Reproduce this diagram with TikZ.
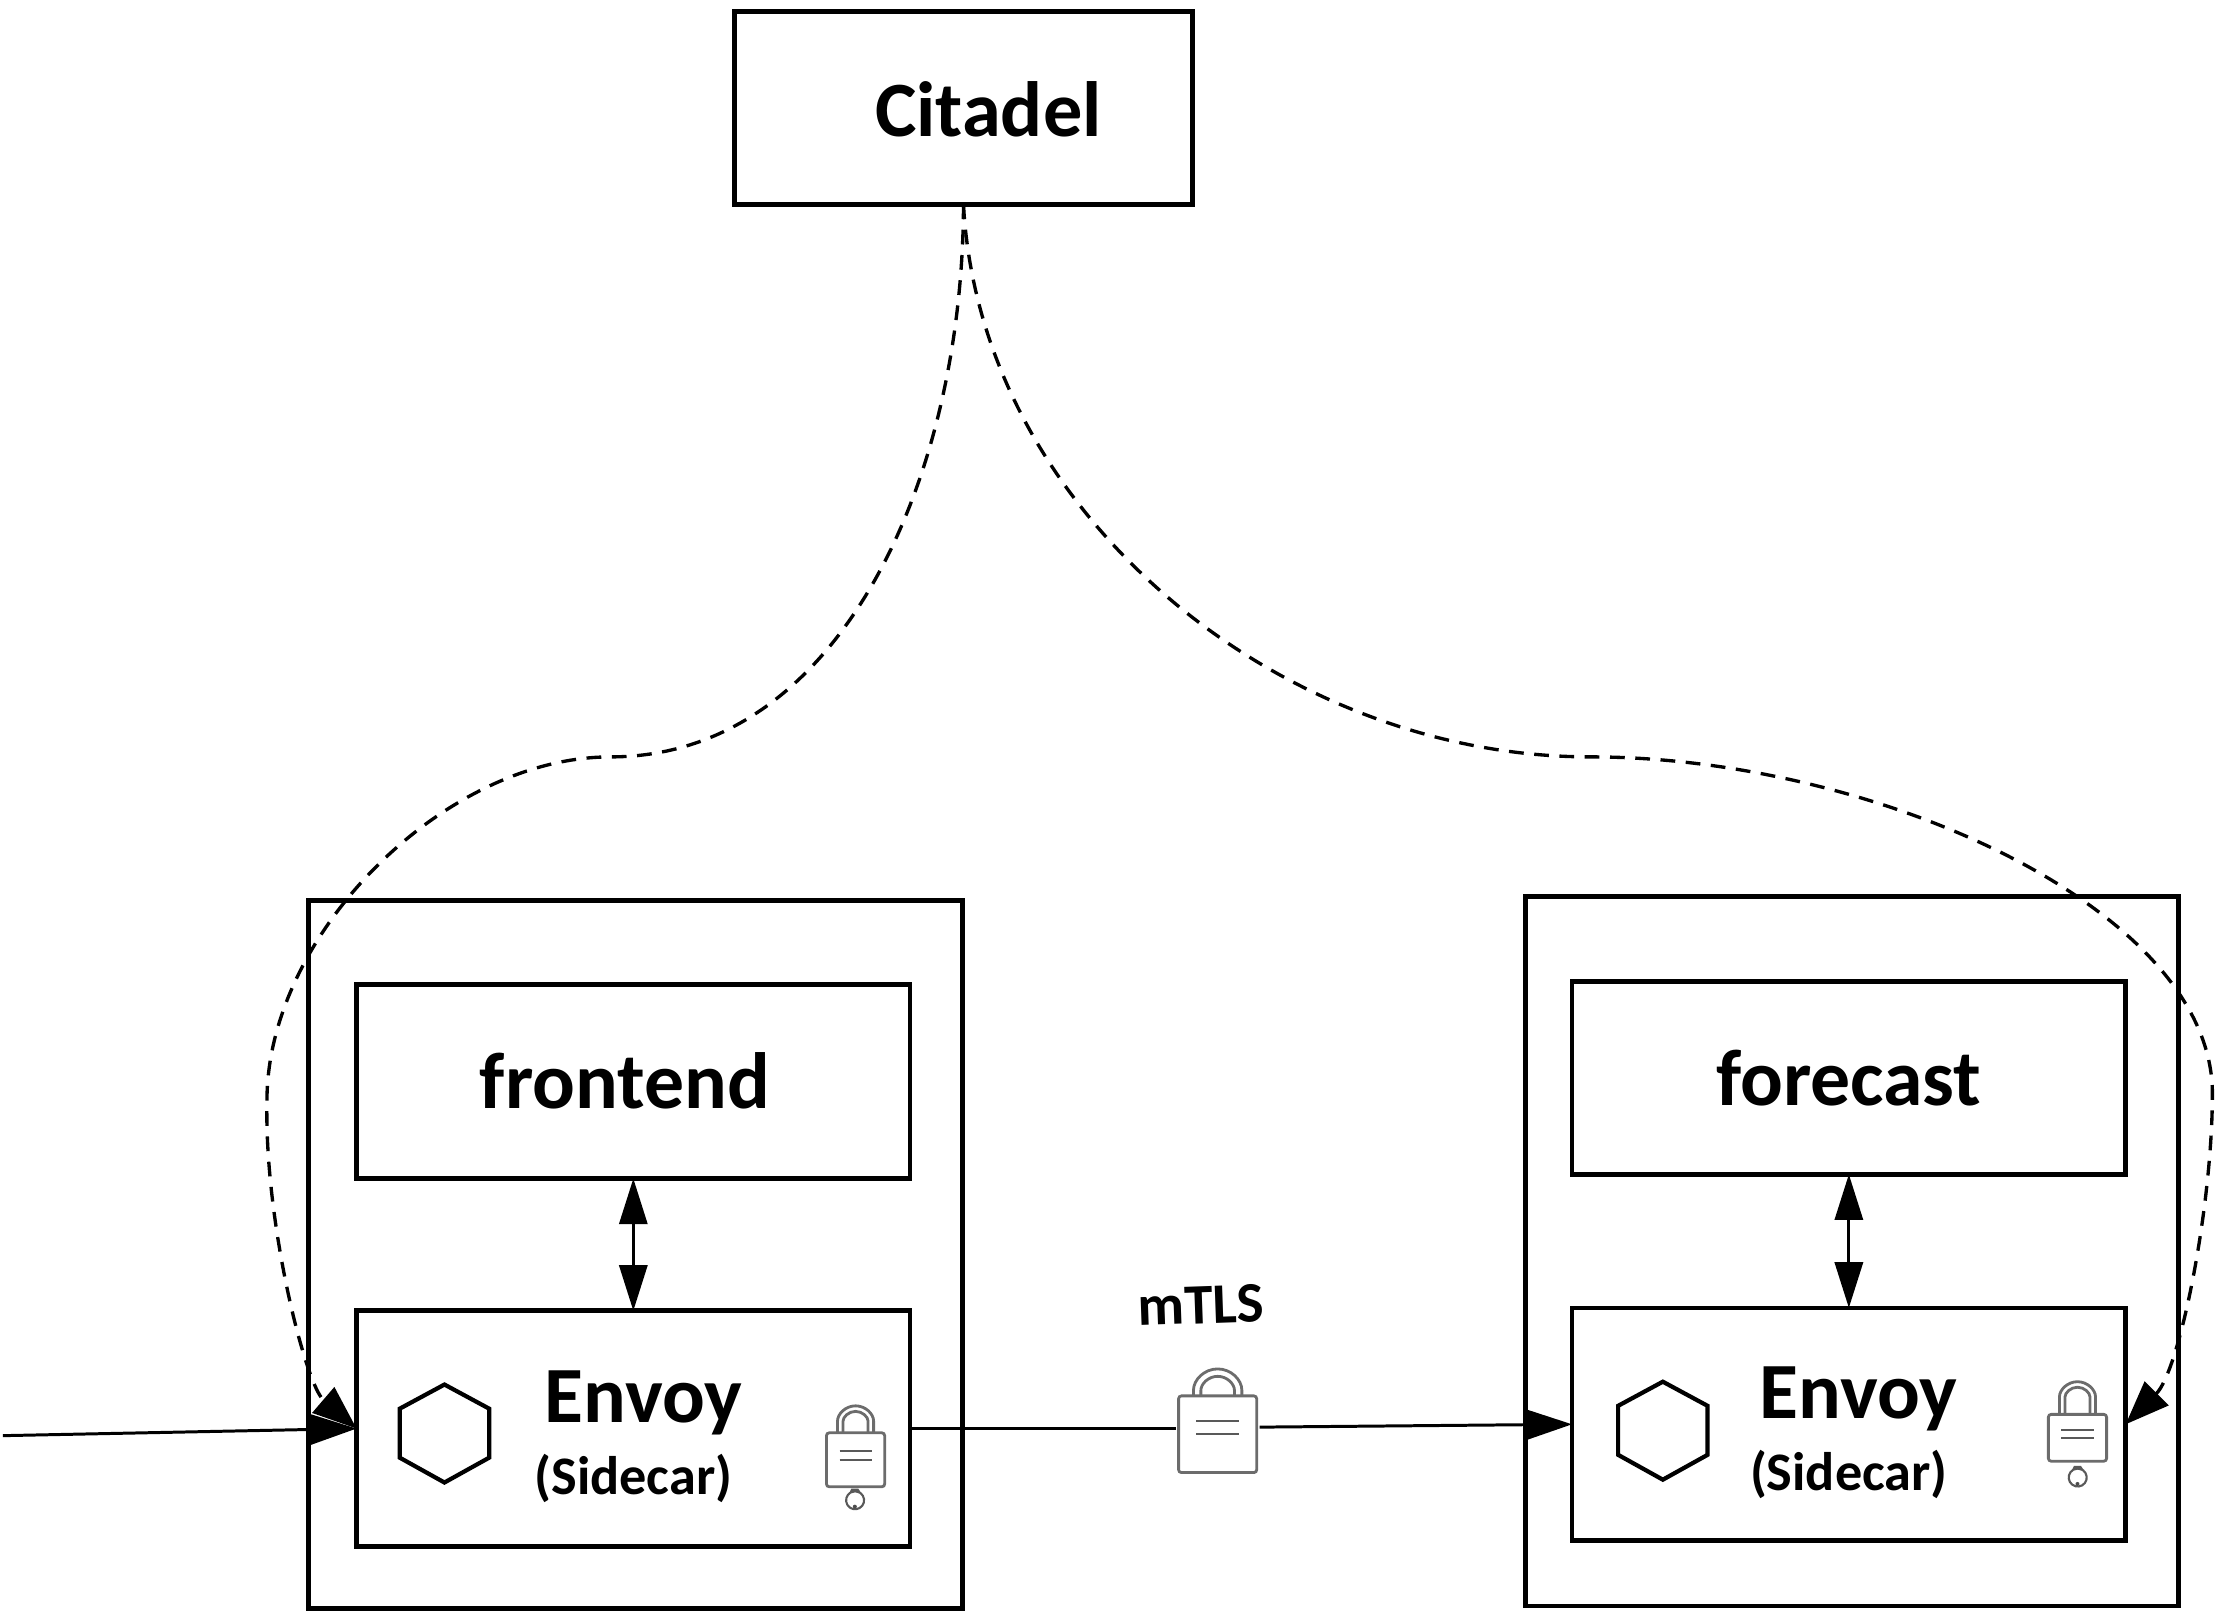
\documentclass[tikz,border=0pt]{standalone}
\usepackage{fontspec}
\setmainfont{Carlito}
\usetikzlibrary{arrows.meta,calc}
\tikzset{
  panel/.style={draw=black,line width=1.35pt,rectangle,inner sep=0pt,outer sep=0pt},
  title/.style={font=\fontsize{22.7}{26}\selectfont\bfseries,inner sep=0pt},
  sub/.style={font=\fontsize{15.45}{18}\selectfont\bfseries,inner sep=0pt},
  tag/.style={font=\fontsize{16.3}{19}\selectfont\bfseries,inner sep=0pt,rotate=2},
  link/.style={draw=black,line width=0.85pt},
  flow/.style={link,-{Triangle[length=13pt,width=8.5pt]}},
  both/.style={link,{Triangle[length=13pt,width=8pt]}-{Triangle[length=13pt,width=8pt]}},
  cert/.style={draw=black,line width=0.95pt,dash pattern=on 4.2pt off 3pt,-{Triangle[length=12.5pt,width=9.5pt]}},
  hex/.style={draw=black,line width=1.2pt,line join=miter},
  lockline/.style={draw=gray!85!black,line width=0.8pt,rounded corners=0.8pt},
  lockthin/.style={draw=gray!70!black,line width=0.6pt},
}
% name, cx, body top, body bottom, half width, shackle peak
\newcommand{\lockglyph}[6]{%
  \draw[lockline] ({#2-0.62*#5},#3) -- ({#2-0.62*#5},{#6+0.62*#5}) arc[start angle=180,end angle=0,radius={0.62*#5*0.0142cm}] -- ({#2+0.62*#5},#3);
  \draw[lockline] ({#2-0.43*#5},#3) -- ({#2-0.43*#5},{#6+0.62*#5}) arc[start angle=180,end angle=0,radius={0.43*#5*0.0142cm}] -- ({#2+0.43*#5},#3);
  \node[lockline,rectangle,inner sep=0pt,outer sep=0pt,fill=white,minimum width={2*#5*0.0142cm},minimum height={(#4-#3)*0.0142cm}] (#1) at (#2,{(#3+#4)/2}) {};
  \draw[lockthin] ({#2-0.55*#5},{#3+0.33*(#4-#3)}) -- ({#2+0.55*#5},{#3+0.33*(#4-#3)});
  \draw[lockthin] ({#2-0.55*#5},{#3+0.50*(#4-#3)}) -- ({#2+0.55*#5},{#3+0.50*(#4-#3)});
}
% cx, cy
\newcommand{\keyglyph}[2]{%
  \draw[lockthin] ({#1-2},{#2-7}) -- ({#1-3},{#2-5}) arc[start angle=120,end angle=-300,radius=0.09cm] -- ({#1+2},{#2-7}) -- cycle;
  \fill[gray!60!black] (#1,{#2+5}) circle[radius=0.02cm];
}
% cx, cy
\newcommand{\hexglyph}[2]{%
  \draw[hex] (#1,{#2-34.5}) -- ({#1+31.5},{#2-17.5}) -- ({#1+31.5},{#2+17}) -- (#1,{#2+34.5}) -- ({#1-31.5},{#2+17}) -- ({#1-31.5},{#2-17.5}) -- cycle;
}
\begin{document}
\begin{tikzpicture}[x=0.0142cm,y=-0.0142cm]
\useasboundingbox (0,0) rectangle (1567.6,1136.6);
% boxes
\node[panel,minimum width=4.587cm,minimum height=1.931cm] (citadel) at (678.5,76) {};
\node[panel,minimum width=6.546cm,minimum height=7.086cm] (podL) at (447.5,883.5) {};
\node[panel,minimum width=6.532cm,minimum height=7.1cm] (podR) at (1304,881) {};
\node[panel,minimum width=5.538cm,minimum height=1.945cm] (frontend) at (446,761.5) {};
\node[panel,minimum width=5.538cm,minimum height=2.357cm] (envoyL) at (446,1006) {};
\node[panel,minimum width=5.538cm,minimum height=1.931cm] (forecast) at (1302,759) {};
\node[panel,minimum width=5.538cm,minimum height=2.329cm] (envoyR) at (1302,1003) {};
% labels
\node[title,font=\fontsize{22.3}{26}\selectfont\bfseries] (tCitadel) at (696,77) {Citadel};
\node[title] (tFrontend) at (440,761) {frontend};
\node[title] (tForecast) at (1302,759) {forecast};
\node[title] (tEnvoyL) at (453,988) {Envoy};
\node[sub] (tSideL) at (446,1041) {(Sidecar)};
\node[title] (tEnvoyR) at (1309,985) {Envoy};
\node[sub] (tSideR) at (1302,1038) {(Sidecar)};
\node[tag] (tMtls) at (846,919) {mTLS};
% glyphs
\hexglyph{313}{1009.5}
\hexglyph{1171}{1007.5}
\lockglyph{lockL}{602.5}{1009}{1047}{20.5}{990}
\keyglyph{602}{1056}
\lockglyph{lockR}{1463}{996}{1029}{20.5}{973}
\keyglyph{1463}{1040}
\lockglyph{lockM}{857.5}{983}{1037}{27.5}{964}
% connectors
\coordinate (inlet) at (2,1011);
\draw[flow] (inlet) -- (envoyL.west);
\draw[both] (frontend.south) -- (envoyL.north);
\draw[both] (forecast.south) -- (envoyR.north);
\coordinate (leftM) at (828,1006);
\coordinate (rightM) at (887,1005);
\draw[link] (envoyL.east) -- (leftM);
\draw[flow] (rightM) -- (envoyR.west);
% certificate distribution
\coordinate (a) at (430,533);
\coordinate (b) at (188,775);
\coordinate (c) at (1120,533);
\coordinate (d) at (1558,770);
\draw[cert] (citadel.south) .. controls (678,340) and (590,533) .. (a)
  .. controls (313,533) and (188,658) .. (b)
  .. controls (186,860) and (215,975) .. (envoyL.west);
\draw[cert] (citadel.south) .. controls (690,360) and (900,533) .. (c)
  .. controls (1320,533) and (1558,640) .. (d)
  .. controls (1558,850) and (1535,965) .. (envoyR.east);
\end{tikzpicture}
\end{document}
